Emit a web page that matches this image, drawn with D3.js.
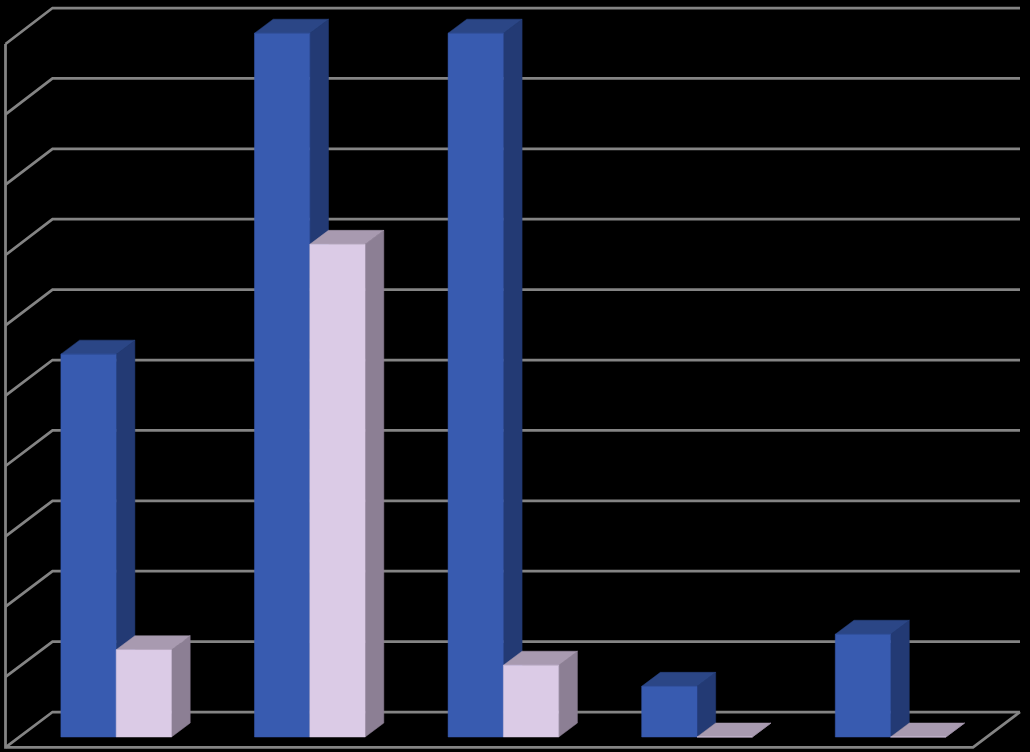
<!DOCTYPE html>
<html>
<head>
<meta charset="utf-8">
<script src="https://cdnjs.cloudflare.com/ajax/libs/d3/7.8.5/d3.min.js"></script>
<style>html,body{margin:0;padding:0;background:#000;overflow:hidden}svg{display:block}</style>
</head>
<body>
<svg id="chart" width="1030" height="752"></svg>
<script>
const categories = ["A", "B", "C", "D", "E"];
const seriesNames = ["s1", "s2"];
const series1 = [5.44, 10, 10, 0.72, 1.46];
const series2 = [1.24, 7.0, 1.02, 0, 0];
const tickValues = d3.range(0, 11);
const seriesColors = [
  {front: "#385bb0", top: "#2b4686", side: "#233a74"},
  {front: "#dbcbe6", top: "#a89ab0", side: "#8c7f94"}
];

const svg = d3.select("#chart");
// wall and floor frame
const backY = d3.scaleLinear().domain([0, 10]).range([712, 8]);
const frontY = d3.scaleLinear().domain([0, 10]).range([747.3, 44]);
const barY = d3.scaleLinear().domain([0, 10]).range([737, 33.2]);
const x0 = d3.scaleBand().domain(categories).range([19.4, 987.4]);
const x1 = d3.scaleBand().domain(seriesNames).range([0, x0.bandwidth()]).paddingOuter(0.75).paddingInner(0);
const wallX = [5.5, 52.5, 1020];
const floorFrontRight = 973;
const depth = {dx: 18.7, dy: 14};
const grid = "#848484";
const line = d3.line();

const g = svg.append("g").attr("fill", "none").attr("stroke", grid).attr("stroke-width", 2.75);
g.append("path").attr("d", line([[wallX[0], frontY(10)], [wallX[0], frontY(0)], [floorFrontRight, frontY(0)], [wallX[2], backY(0)]]));
g.selectAll("path.grid").data(tickValues).join("path").attr("class", "grid")
  .attr("d", t => line([[wallX[0], frontY(t)], [wallX[1], backY(t)], [wallX[2], backY(t)]]));

const rows = [];
categories.forEach((c, i) => {
  rows.push({c, s: seriesNames[0], v: series1[i], col: seriesColors[0]});
  rows.push({c, s: seriesNames[1], v: series2[i], col: seriesColors[1]});
});

const bars = svg.selectAll("g.bar").data(rows).join("g").attr("class", "bar");
const L = d => x0(d.c) + x1(d.s);
const R = d => L(d) + x1.bandwidth();
const T = d => barY(d.v);
const B = () => barY(0);
const strokeOf = (sel, key) => sel.attr("fill", d => d.col[key]).attr("stroke", d => d.col[key]).attr("stroke-width", 0.5);

strokeOf(bars.append("path").attr("d", d => line([[R(d), T(d)], [R(d) + depth.dx, T(d) - depth.dy], [R(d) + depth.dx, B() - depth.dy], [R(d), B()]]) + "Z"), "side");
strokeOf(bars.append("path").attr("d", d => line([[L(d), T(d)], [L(d) + depth.dx, T(d) - depth.dy], [R(d) + depth.dx, T(d) - depth.dy], [R(d), T(d)]]) + "Z"), "top");
strokeOf(bars.append("path").attr("d", d => line([[L(d), T(d)], [R(d), T(d)], [R(d), B()], [L(d), B()]]) + "Z"), "front");
</script>
</body>
</html>
